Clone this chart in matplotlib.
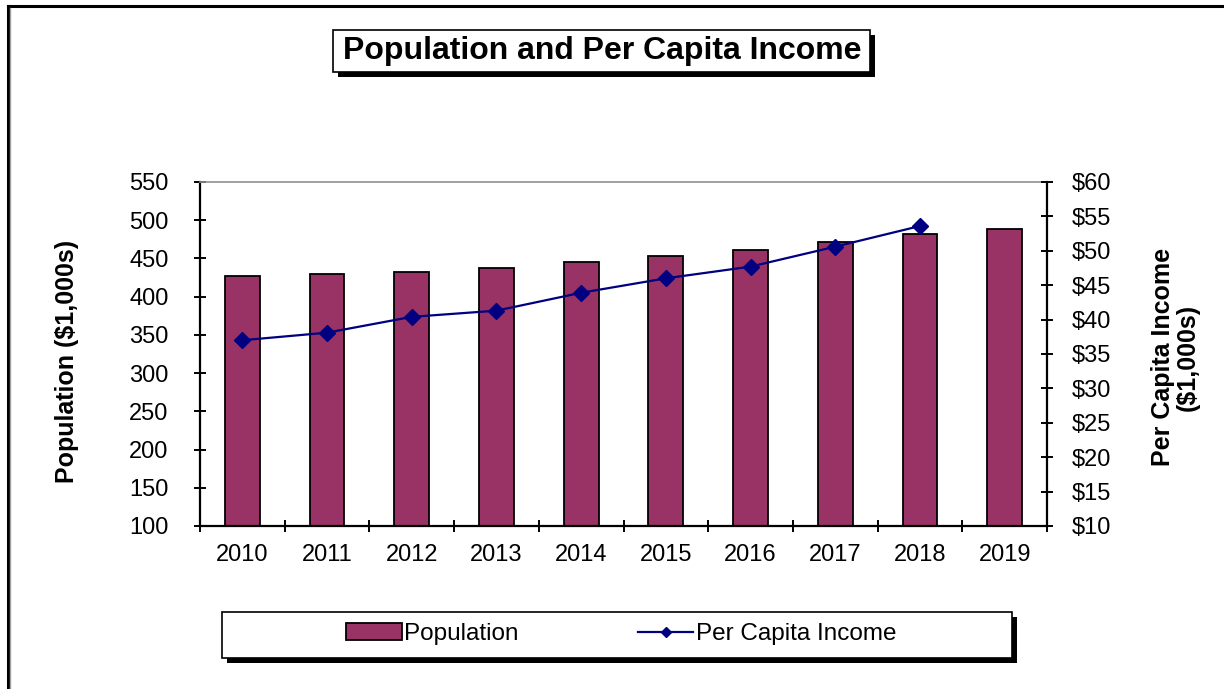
import matplotlib
matplotlib.use("Agg")
import matplotlib.pyplot as plt
from matplotlib.patches import Rectangle
from matplotlib.lines import Line2D
import numpy as np

plt.rcParams['font.family'] = ['Liberation Sans', 'DejaVu Sans']

# Data
years = ['2010', '2011', '2012', '2013', '2014', '2015', '2016', '2017', '2018', '2019']
population = [427, 429, 432, 437, 445, 453, 461, 472, 482, 489]
per_capita_income = [37.0, 38.1, 40.4, 41.3, 43.9, 46.0, 47.7, 50.6, 53.6, None]

pop_ticks = list(range(100, 551, 50))
inc_ticks = list(range(10, 61, 5))
inc_labels = ['$%d' % v for v in inc_ticks]

BAR_COLOR = '#993366'
LINE_COLOR = '#000080'

W, H = 1224, 689
fig = plt.figure(figsize=(W / 100, H / 100), dpi=100)


def fx(px):
    return px / W


def fy(py):
    return 1 - py / H


def shadow_box(x0, y0, x1, y1, off=5):
    # drop shadow then white box with black outline
    fig.patches.append(Rectangle((fx(x0 + off), fy(y1 + off)), fx(x1 - x0), (y1 - y0) / H,
                                 transform=fig.transFigure, facecolor='black',
                                 edgecolor='black', lw=0, zorder=1))
    fig.patches.append(Rectangle((fx(x0), fy(y1)), fx(x1 - x0), (y1 - y0) / H,
                                 transform=fig.transFigure, facecolor='white',
                                 edgecolor='black', lw=1.2, zorder=2))


# outer frame (left and top edges)
fig.add_artist(Line2D([fx(8), fx(8)], [0, fy(6)], transform=fig.transFigure, color='black', lw=2.2))
fig.add_artist(Line2D([fx(8), 1], [fy(6), fy(6)], transform=fig.transFigure, color='black', lw=2.2))
fig.add_artist(Line2D([fx(10), fx(10)], [0, fy(8)], transform=fig.transFigure, color='#a0a0a0', lw=1))

ax = fig.add_axes([fx(200), fy(526), fx(1047 - 200), (526 - 182) / H])
x = np.arange(len(years))
ax.bar(x, population, width=0.41, color=BAR_COLOR, edgecolor='black', linewidth=1.3,
       label='Population', zorder=2)
ax.set_xlim(-0.5, len(years) - 0.5)
ax.set_ylim(pop_ticks[0], pop_ticks[-1])
ax.set_yticks(pop_ticks)
ax.set_xticks(x)
ax.set_xticklabels(years)
ax.set_xticks(np.arange(-0.5, len(years), 1.0), minor=True)
ax.tick_params(axis='x', which='major', length=0, pad=13, labelsize=17)
ax.tick_params(axis='x', which='minor', direction='inout', length=8, width=1.4)
ax.tick_params(axis='y', direction='inout', length=9, width=1.4, pad=18, labelsize=17)
for s in ['left', 'bottom']:
    ax.spines[s].set_linewidth(1.6)
ax.spines['top'].set_color('#909090')
ax.spines['top'].set_linewidth(1.2)
ax.spines['right'].set_visible(False)

ax2 = ax.twinx()
inc_x = [i for i, v in enumerate(per_capita_income) if v is not None]
inc_y = [v for v in per_capita_income if v is not None]
ax2.plot(inc_x, inc_y, color=LINE_COLOR, lw=1.6, marker='D', markersize=8,
         markeredgecolor=LINE_COLOR, label='Per Capita Income', zorder=3)
ax2.set_ylim(inc_ticks[0], inc_ticks[-1])
ax2.set_yticks(inc_ticks)
ax2.set_yticklabels(inc_labels)
ax2.tick_params(axis='y', direction='inout', length=9, width=1.4, pad=13, labelsize=17)
ax2.spines['right'].set_linewidth(1.6)
for s in ['left', 'bottom', 'top']:
    ax2.spines[s].set_visible(False)

# axis titles
fig.text(fx(67), fy(361), 'Population ($1,000s)', rotation=90, ha='center', va='center',
         fontsize=18, fontweight='bold')
fig.text(fx(1175), fy(357), 'Per Capita Income\n($1,000s)', rotation=90, ha='center',
         va='center', fontsize=18, fontweight='bold', multialignment='center', linespacing=1.05)

# chart title in shadowed box
shadow_box(333, 30, 870, 72)
fig.text(fx(602), fy(51), 'Population and Per Capita Income', ha='center', va='center',
         fontsize=23, fontweight='bold', zorder=3)

# legend in shadowed box
shadow_box(222, 612, 1012, 658)
h1, l1 = ax.get_legend_handles_labels()
h2, l2 = ax2.get_legend_handles_labels()
leg = fig.legend(h1 + h2, l1 + l2, loc='center', bbox_to_anchor=(fx(621), fy(634)),
                 ncol=2, frameon=False, fontsize=17.5, handlelength=2.3, handletextpad=0.1,
                 columnspacing=4.9, markerscale=0.7)
leg.set_zorder(4)

fig.savefig('out.png', dpi=100)
